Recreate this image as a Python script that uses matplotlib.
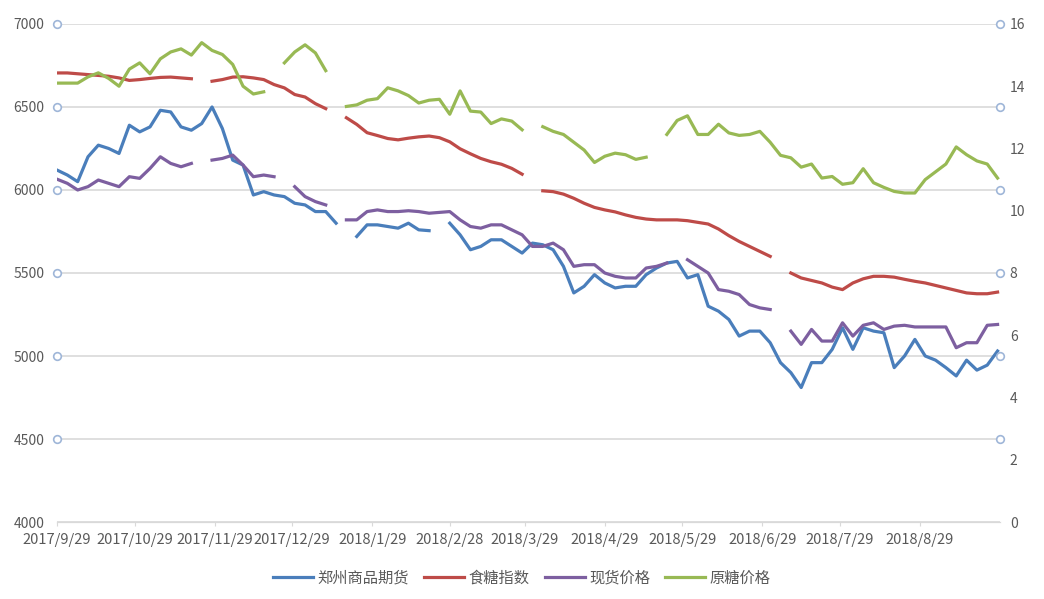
import numpy as np
import pandas as pd
import matplotlib
matplotlib.use("Agg")
import matplotlib.pyplot as plt
import matplotlib.transforms as mtransforms

plt.rcParams['font.family'] = ['Noto Sans CJK SC', 'DejaVu Sans']

nan = np.nan

# sampled every 4 days from 2017/9/29
dates = pd.date_range("2017-09-29", periods=92, freq="4D")

# 郑州商品期货 (left axis)
zhengzhou = [6120, 6090, 6050, 6200, 6270, 6250, 6220, 6390, 6350, 6380,
             6480, 6470, 6380, 6360, 6400, 6500, 6370, 6180, 6150, 5970,
             5990, 5970, 5960, 5920, 5910, 5870, 5870, 5800, nan, 5720,
             5790, 5790, 5780, 5770, 5800, 5760, 5755, nan, 5800, 5730,
             5640, 5660, 5700, 5700, 5660, 5620, 5680, 5670, 5640, 5540,
             5380, 5420, 5490, 5440, 5410, 5420, 5420, 5490, 5530, 5560,
             5570, 5470, 5490, 5300, 5270, 5220, 5120, 5150, 5150, 5080,
             4960, 4900, 4810, 4960, 4960, 5040, 5170, 5040, 5170, 5150,
             5140, 4930, 5000, 5100, 5000, 4975, 4930, 4880, 4975, 4915,
             4945, 5030]

# 食糖指数 (left axis)
sugar_index = [6705, 6705, 6700, 6695, 6690, 6685, 6675, 6660, 6665, 6672,
               6678, 6680, 6675, 6670, nan, 6655, 6665, 6680, 6682, 6675,
               6665, 6635, 6615, 6575, 6560, 6520, 6490, nan, 6435, 6395,
               6345, 6328, 6310, 6302, 6312, 6320, 6325, 6315, 6290, 6248,
               6218, 6190, 6170, 6155, 6130, 6095, nan, 5995, 5990, 5975,
               5950, 5920, 5895, 5880, 5868, 5850, 5835, 5825, 5820, 5820,
               5820, 5815, 5805, 5795, 5765, 5725, 5690, 5660, 5630, 5600,
               nan, 5500, 5470, 5455, 5440, 5415, 5400, 5440, 5465, 5480,
               5480, 5475, 5462, 5450, 5440, 5425, 5410, 5395, 5380, 5375,
               5375, 5385]

# 现货价格 (left axis)
spot_price = [6065, 6040, 6000, 6020, 6060, 6040, 6020, 6080, 6070, 6130,
              6200, 6160, 6140, 6160, nan, 6180, 6190, 6210, 6150, 6080,
              6090, 6080, nan, 6020, 5960, 5930, 5910, nan, 5820, 5820,
              5870, 5880, 5870, 5870, 5875, 5870, 5860, 5865, 5870, 5820,
              5780, 5770, 5790, 5790, 5760, 5730, 5660, 5660, 5680, 5640,
              5540, 5550, 5550, 5500, 5480, 5470, 5470, 5530, 5540, 5560,
              nan, 5580, 5540, 5500, 5400, 5390, 5370, 5310, 5290, 5280,
              nan, 5150, 5070, 5160, 5090, 5090, 5200, 5120, 5185, 5200,
              5160, 5180, 5185, 5175, 5175, 5175, 5175, 5050, 5080, 5080,
              5185, 5190]

# 原糖价格 (right axis)
raw_sugar = [14.10, 14.10, 14.10, 14.30, 14.43, 14.25, 14.00, 14.55, 14.75, 14.40,
             14.88, 15.10, 15.20, 15.00, 15.40, 15.15, 15.02, 14.70, 14.00, 13.75,
             13.82, nan, 14.75, 15.10, 15.33, 15.07, 14.50, nan, 13.35, 13.40,
             13.55, 13.60, 13.95, 13.85, 13.70, 13.46, 13.55, 13.58, 13.10, 13.85,
             13.20, 13.17, 12.80, 12.95, 12.88, 12.60, nan, 12.70, 12.55, 12.45,
             12.20, 11.95, 11.55, 11.75, 11.85, 11.80, 11.65, 11.72, nan, 12.45,
             12.90, 13.05, 12.45, 12.45, 12.78, 12.50, 12.42, 12.45, 12.55, 12.20,
             11.78, 11.70, 11.40, 11.50, 11.05, 11.10, 10.85, 10.90, 11.35, 10.90,
             10.75, 10.62, 10.57, 10.57, 11.00, 11.25, 11.50, 12.05, 11.80, 11.60,
             11.50, 11.05]

tick_dates = pd.to_datetime(["2017-09-29", "2017-10-29", "2017-11-29", "2017-12-29",
                             "2018-01-29", "2018-02-28", "2018-03-29", "2018-04-29",
                             "2018-05-29", "2018-06-29", "2018-07-29", "2018-08-29"])
tick_labels = ["2017/9/29", "2017/10/29", "2017/11/29", "2017/12/29", "2018/1/29",
               "2018/2/28", "2018/3/29", "2018/4/29", "2018/5/29", "2018/6/29",
               "2018/7/29", "2018/8/29"]

label_color = '#595959'
grid_color = '#d9d9d9'

fig = plt.figure(figsize=(10.44, 5.99), dpi=100)
ax = fig.add_axes([0.0546, 0.1285, 0.9034, 0.8315])
ax2 = ax.twinx()

lw = 2.3
l1, = ax.plot(dates, zhengzhou, color='#4a7ebb', lw=lw, label='郑州商品期货')
l2, = ax.plot(dates, sugar_index, color='#be4b48', lw=lw, label='食糖指数')
l3, = ax.plot(dates, spot_price, color='#7d5fa0', lw=lw, label='现货价格')
l4, = ax2.plot(dates, raw_sugar, color='#98b954', lw=lw, label='原糖价格')

ax.set_ylim(4000, 7000)
ax.set_yticks(np.arange(4000, 7001, 500))
ax2.set_ylim(0, 16)
ax2.set_yticks(np.arange(0, 17, 2))
ax.set_xlim(pd.Timestamp("2017-09-29"), pd.Timestamp("2018-09-29"))
ax.set_xticks(tick_dates)
ax.set_xticklabels(tick_labels)

ax.grid(axis='y', color=grid_color, lw=1.2)
ax.set_axisbelow(True)
for a in (ax, ax2):
    for s in ('top', 'left', 'right'):
        a.spines[s].set_visible(False)
    a.spines['bottom'].set_color(grid_color)
ax.tick_params(axis='y', length=0, pad=9, labelsize=10, labelcolor=label_color)
ax2.tick_params(axis='y', length=0, pad=7, labelsize=10, labelcolor=label_color)
ax.tick_params(axis='x', length=3, color=grid_color, pad=5, labelsize=10.5,
               labelcolor=label_color)

# small circle markers at the gridline ends
circ_y = np.arange(4500, 7001, 500)
for xpos in (0, 1):
    trans = mtransforms.blended_transform_factory(ax.transAxes, ax.transData)
    ax.plot([xpos] * len(circ_y), circ_y, 'o', ms=5.5, mfc='white', mec='#9fb6d8',
            mew=1.2, transform=trans, clip_on=False, zorder=5)

fig.legend(handles=[l1, l2, l3, l4], loc='center', bbox_to_anchor=(0.5, 1 - 578 / 599),
           ncol=4, frameon=False, fontsize=11, handlelength=2.6, columnspacing=1.0,
           handletextpad=0.3, labelcolor=label_color)

fig.savefig("out.png", dpi=100)
